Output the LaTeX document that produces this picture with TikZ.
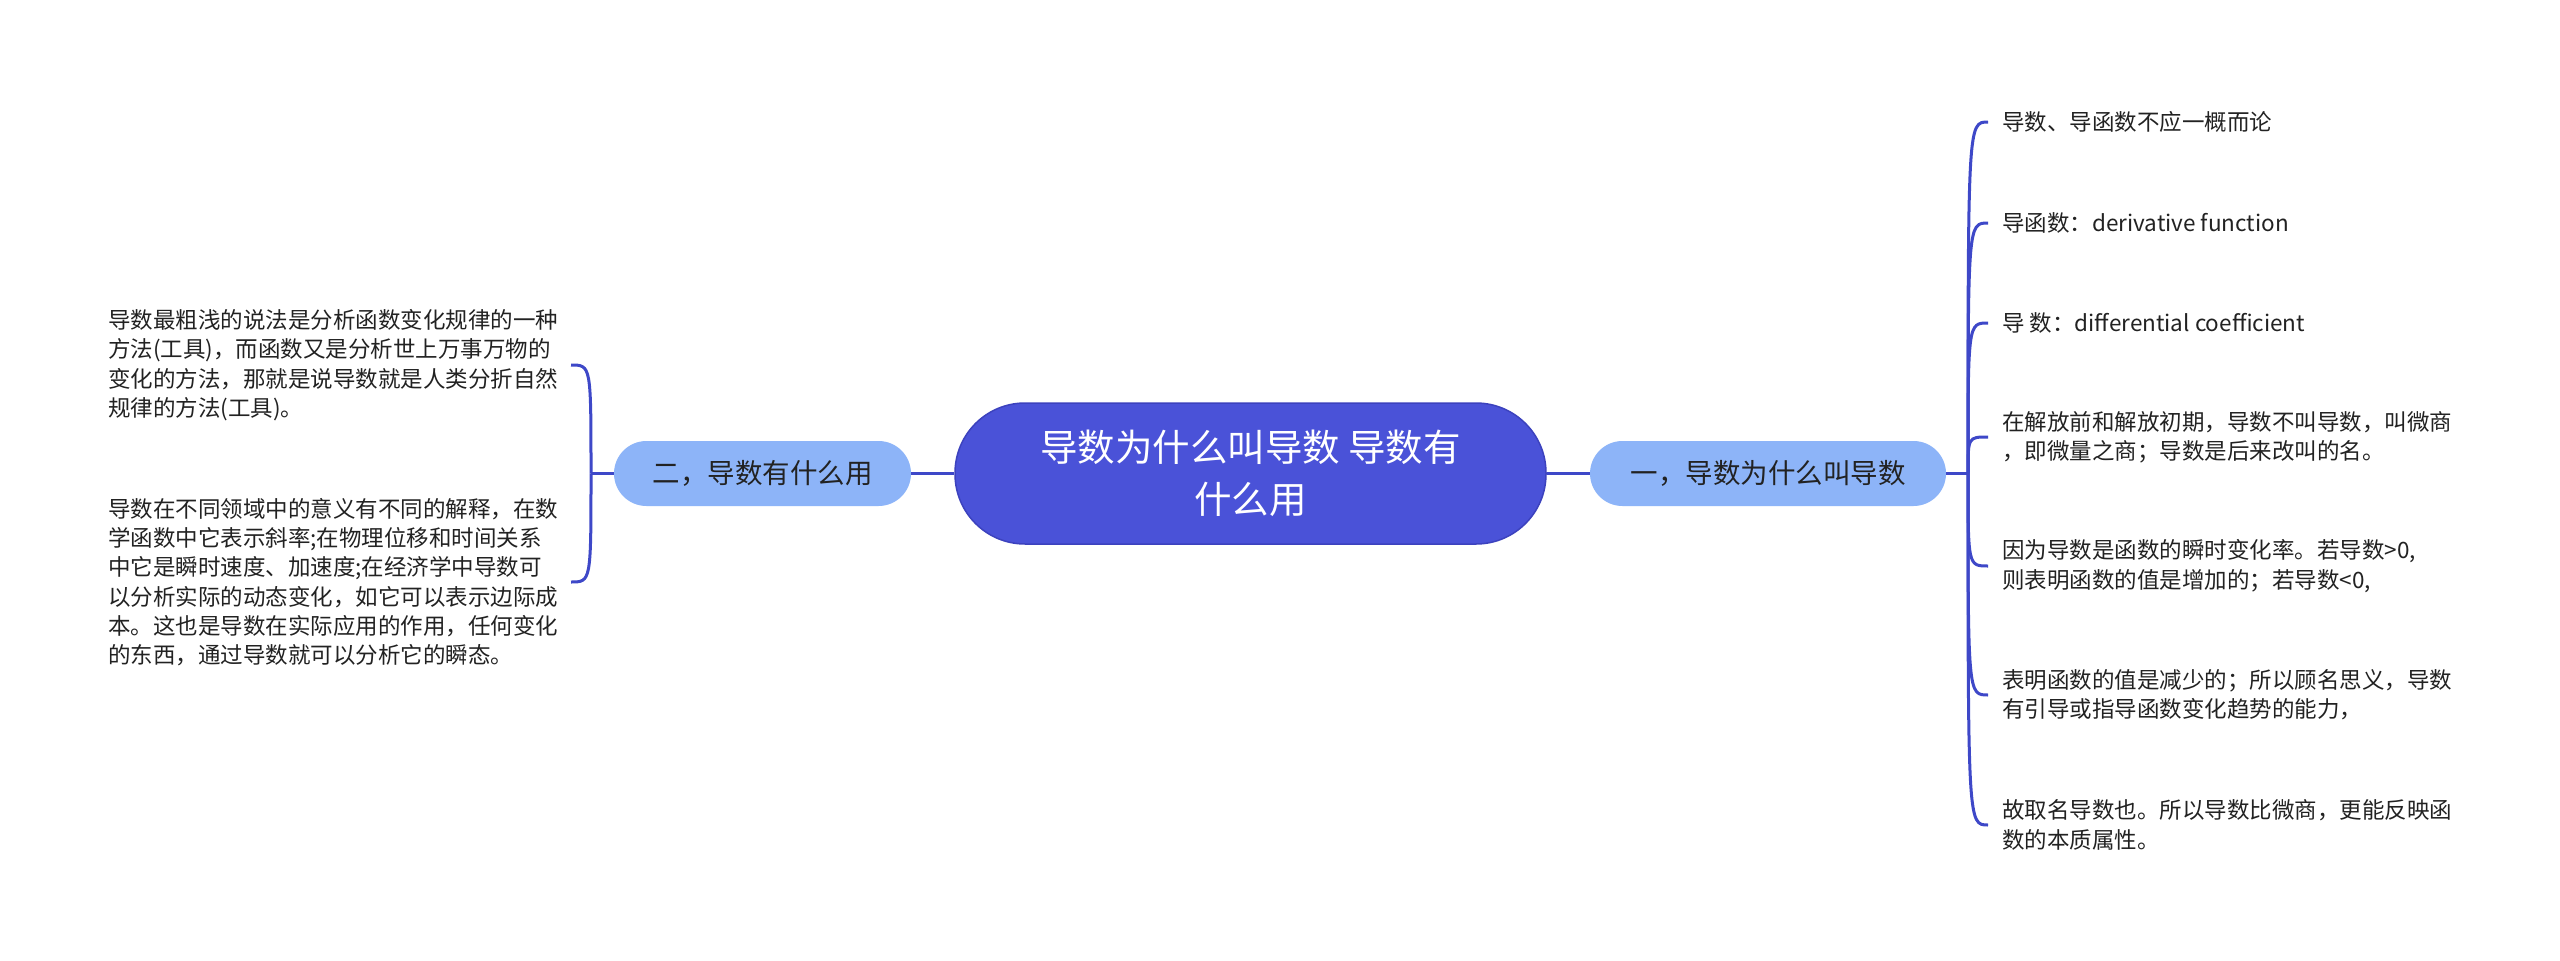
\documentclass[tikz,border=0pt]{standalone}
\usepackage{fontspec}
\setmainfont{Noto Sans CJK SC}
\definecolor{rootfill}{RGB}{74,82,216}
\definecolor{rootdraw}{RGB}{60,66,190}
\definecolor{branchfill}{RGB}{141,180,248}
\definecolor{linecol}{RGB}{62,72,200}
\definecolor{txt}{RGB}{34,34,34}
\tikzset{
  rootbox/.style={draw=rootdraw, line width=1.5pt, fill=rootfill, rounded corners=70pt,
    minimum width=591pt, minimum height=141pt, text=white, align=center,
    font=\fontsize{37.5}{52}\selectfont, inner sep=0pt},
  branchbox/.style={fill=branchfill, rounded corners=32.5pt, minimum height=65pt,
    text=txt, align=center, font=\fontsize{27.5}{34}\selectfont, inner sep=0pt},
  leaftext/.style={text=txt, align=left, inner sep=0pt, font=\fontsize{22.5}{29.3}\selectfont},
  conn/.style={draw=linecol, line width=3pt},
}
\begin{document}
\begin{tikzpicture}[x=1pt,y=-1pt]
\useasboundingbox[fill=white] (0,0) rectangle (2560,961);

\node[rootbox] (r) at (1250.5,473.5) {导数为什么叫导数 导数有\\什么用};
\node[branchbox, minimum width=356pt] (b1) at (1768,473.5) {一，导数为什么叫导数};
\node[branchbox, minimum width=297pt] (b2) at (762.5,473.5) {二，导数有什么用};

\coordinate (j1) at (1968,473.5);
\coordinate (j2) at (591,473.5);

\node[leaftext, anchor=west] (l1) at (2002,122) {导数、导函数不应一概而论};
\node[leaftext, anchor=west] (l2) at (2002,223) {导函数：derivative function};
\node[leaftext, anchor=west] (l3) at (2002,323) {导 数：differential coefficient};
\node[leaftext, anchor=west] (l4) at (2002,437) {在解放前和解放初期，导数不叫导数，叫微商\\，即微量之商；导数是后来改叫的名。};
\node[leaftext, anchor=west] (l5) at (2002,566) {因为导数是函数的瞬时变化率。若导数>0,\\则表明函数的值是增加的；若导数<0,};
\node[leaftext, anchor=west] (l6) at (2002,695) {表明函数的值是减少的；所以顾名思义，导数\\有引导或指导函数变化趋势的能力，};
\node[leaftext, anchor=west] (l7) at (2002,825) {故取名导数也。所以导数比微商，更能反映函\\数的本质属性。};

\node[leaftext, anchor=west] (m1) at (108,365) {导数最粗浅的说法是分析函数变化规律的一种\\方法(工具)，而函数又是分析世上万事万物的\\变化的方法，那就是说导数就是人类分折自然\\规律的方法(工具)。};
\node[leaftext, anchor=west] (m2) at (108,582) {导数在不同领域中的意义有不同的解释，在数\\学函数中它表示斜率;在物理位移和时间关系\\中它是瞬时速度、加速度;在经济学中导数可\\以分析实际的动态变化，如它可以表示边际成\\本。这也是导数在实际应用的作用，任何变化\\的东西，通过导数就可以分析它的瞬态。};

\draw[conn] (r.east) -- (b1.west);
\draw[conn] (r.west) -- (b2.east);
\draw[conn] (b1.east) -- (j1);
\draw[conn] (b2.west) -- (j2);

\foreach \l in {l1,l2,l3,l4,l5,l6,l7}{
  \draw[conn] (j1) .. controls (j1 |- \l.west) .. ([xshift=-14pt]\l.west);
}
\draw[conn] (j2) .. controls (j2 |- m1.east) .. (571,365);
\draw[conn] (j2) .. controls (j2 |- m2.east) .. (571,582);
\end{tikzpicture}
\end{document}
